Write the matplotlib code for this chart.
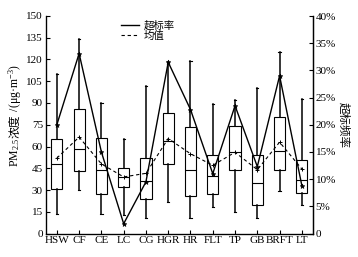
import matplotlib
matplotlib.use("Agg")
import matplotlib.pyplot as plt
from matplotlib.ticker import FuncFormatter
from matplotlib.lines import Line2D

plt.rcParams['mathtext.fontset'] = 'custom'
plt.rcParams['mathtext.rm'] = 'Liberation Serif'
plt.rcParams['mathtext.it'] = 'Liberation Serif:italic'

categories = ["HSW", "CF", "CE", "LC", "CG", "HGR", "HR", "FLT", "TP", "GB", "BRFT", "LT"]
whisker_low = [13.5, 30, 13.5, 12.5, 10.5, 22, 10.5, 18, 15, 10.5, 29.5, 19.5]
q1 = [31, 43, 27, 32, 24, 48, 26, 27, 43.5, 19.5, 43.5, 28]
median = [48, 58, 44, 39, 36, 64, 44, 39.5, 56, 35, 57, 37]
q3 = [65, 86, 66, 45, 52, 83, 73.5, 54, 74, 54, 80, 50.5]
whisker_high = [110, 134, 90, 65, 102, 118.5, 119, 89, 92, 100, 125, 92.5]
mean_vals = [52, 66.5, 48, 39, 41.5, 65.5, 55, 47, 56, 44, 63, 44.5]
exceed_rate = [20, 33.1, 15, 1.8, 9.5, 31.5, 22.8, 11, 23.5, 12.3, 29, 8.8]

serif = 'Liberation Serif'
cjk = 'Noto Sans CJK SC'

fig = plt.figure(figsize=(3.58, 2.57), dpi=100)
ax = fig.add_axes([45.7/358, 23.5/257, (313-45.7)/358, (241-23.5)/257])

positions = list(range(1, len(categories) + 1))
stats = []
for i, c in enumerate(categories):
    stats.append(dict(label=c, whislo=whisker_low[i], q1=q1[i], med=median[i],
                      q3=q3[i], whishi=whisker_high[i], mean=mean_vals[i], fliers=[]))
ax.bxp(stats, positions=positions, widths=0.5, showfliers=False, showmeans=False,
       patch_artist=True,
       boxprops=dict(facecolor='white', edgecolor='black', linewidth=0.8),
       medianprops=dict(color='black', linewidth=0.8),
       whiskerprops=dict(color='black', linewidth=1.1),
       capprops=dict(color='black', linewidth=0.8),
       capwidths=0.1)

ax.plot(positions, mean_vals, color='black', linestyle=(0, (3, 2.5)), linewidth=0.8,
        marker='+', markersize=3, markeredgewidth=0.7, zorder=5)

ax.set_xlim(0.5, len(categories) + 0.5)
ax.set_ylim(0, 150)
ax.set_yticks(range(0, 151, 15))
ax.set_xticks(positions)
ax.set_xticklabels(categories, fontfamily=serif, fontsize=8)
for lab in ax.get_yticklabels():
    lab.set_fontfamily(serif)
    lab.set_fontsize(8)
ax.tick_params(axis='both', direction='in', length=3, width=0.8, pad=2)
ax.spines['top'].set_visible(False)
for s in ['left', 'right', 'bottom']:
    ax.spines[s].set_linewidth(0.9)

ax2 = ax.twinx()
ax2.plot(positions, exceed_rate, color='black', linestyle='-', linewidth=1.0,
         marker='*', markersize=3.5, markeredgewidth=0.5, zorder=6)
ax2.set_ylim(0, 40)
ax2.set_yticks(range(0, 41, 5))
ax2.yaxis.set_major_formatter(FuncFormatter(lambda v, p: '0' if v == 0 else f'{int(v)}%'))
for lab in ax2.get_yticklabels():
    lab.set_fontfamily(serif)
    lab.set_fontsize(8)
ax2.tick_params(axis='y', direction='in', length=3, width=0.8, pad=2)
ax2.spines['top'].set_visible(False)
ax2.spines['right'].set_linewidth(0.9)
ax2.set_ylabel('超标频率', fontfamily=cjk, fontsize=8.3, rotation=270, labelpad=10)

leg_handles = [Line2D([], [], color='black', linewidth=1.0),
               Line2D([], [], color='black', linestyle=(0, (3, 2.5)), linewidth=0.8)]
leg = ax2.legend(leg_handles, ['超标率', '均值'], loc='upper left',
                 bbox_to_anchor=(0.265, 1.0),
                 frameon=False, prop=dict(family=cjk, size=7.5), handlelength=1.8,
                 handletextpad=0.4, labelspacing=0.05, borderaxespad=0)

# Left y label composed of pieces (serif + CJK)
pieces = [("PM$_{2.5}$ ", serif), ("浓度", cjk), (" /(μg·m$^{-3}$)", serif)]
fig.canvas.draw()
renderer = fig.canvas.get_renderer()
texts = []
for s, fam in pieces:
    t = fig.text(0, 0, s, rotation=90, rotation_mode='anchor', ha='left', va='baseline',
                 fontfamily=fam, fontsize=8.5)
    texts.append(t)
heights = [t.get_window_extent(renderer).height for t in texts]
total = sum(heights)
center_y = 116.0  # pixels from top
base_x = 18.5
y = (257 - center_y) - total / 2
for t, h in zip(texts, heights):
    t.set_position((base_x / 358, y / 257))
    y += h

fig.savefig('out.png', dpi=100)
